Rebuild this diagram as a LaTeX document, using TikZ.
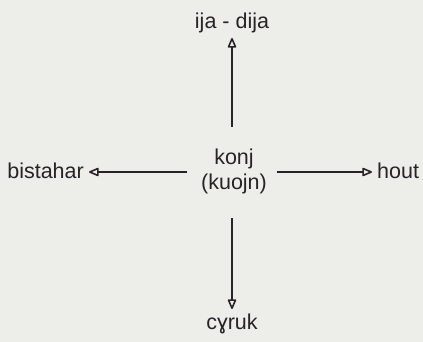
\documentclass[tikz,border=0pt]{standalone}
\usepackage{fontspec}
\setmainfont{Liberation Sans}
\usetikzlibrary{arrows.meta}
\definecolor{ink}{RGB}{40,36,38}
\definecolor{paper}{RGB}{237,237,234}
\tikzset{
	word/.style={text=ink, font=\fontsize{21.5}{25}\selectfont, inner sep=5pt},
	link/.style={draw=ink, line width=1.6pt, -{Triangle[open, length=11pt, width=9pt, round]}},
}
\begin{document}
\begin{tikzpicture}[x=1pt, y=-1pt]
	%background
	\fill[paper] (0,0) rectangle (423,342);
	\useasboundingbox (0,0) rectangle (423,342);
	%
	%words
	\node[word, align=center, inner sep=0pt] (konj) at (234,171) {konj\\(kuojn)};
	\node[word, anchor=south] (ija) at (232,38) {ija - dija};
	\node[word, anchor=north] (cyruk) at (232,309) {cɣruk};
	\node[word, anchor=east] (bistahar) at (89,171) {bistahar};
	\node[word, anchor=west] (hout) at (372,171) {hout};
	%
	%arrows
	\coordinate (up) at (232,127);
	\coordinate (down) at (232,218);
	\coordinate (left) at (187,172);
	\coordinate (right) at (277,172);
	\draw[link] (up) -- (ija.south);
	\draw[link] (down) -- (cyruk.north);
	\draw[link] (left) -- (bistahar.east |- left);
	\draw[link] (right) -- (hout.west |- right);
\end{tikzpicture}
\end{document}
